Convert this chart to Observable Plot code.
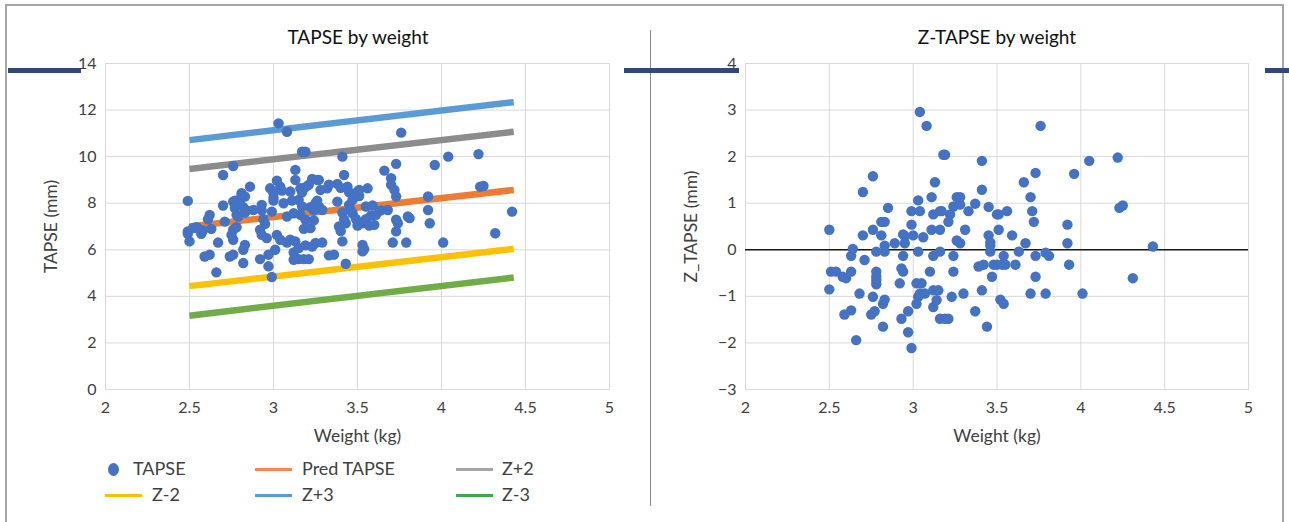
<!DOCTYPE html>
<html>
<head>
<meta charset="utf-8">
<script src="https://cdn.jsdelivr.net/npm/d3@7"></script>
<script src="https://cdn.jsdelivr.net/npm/@observablehq/plot@0.6"></script>
<style>
  html, body { margin: 0; padding: 0; background: #fff; }
  #root { position: relative; width: 1289px; height: 522px; overflow: hidden; font-family: "Lato", "Open Sans", sans-serif; color: #262626; }
  .abs { position: absolute; }
  .title { font-size: 19px; color: #111; white-space: nowrap; transform: translateX(-50%); }
  .leg { font-size: 18px; color: #404040; white-space: nowrap; line-height: 1; }
  #root svg [aria-label$="axis label"] text { font-size: 17.5px; fill: #404040; }
</style>
</head>
<body>
<div id="root"></div>
<script>
// ---------- data ----------
const xTicks = [2, 2.5, 3, 3.5, 4, 4.5, 5];
const tapseTicks = [0, 2, 4, 6, 8, 10, 12, 14];
const zTicks = [-3, -2, -1, 0, 1, 2, 3, 4];

const tapseWeight = [2.49,2.49,2.52,2.55,2.58,2.50,2.49,2.57,2.54,2.59,2.62,2.66,2.62,2.61,2.63,2.67,2.70,2.76,2.70,2.71,
 2.74,2.76,2.76,2.77,2.78,2.79,2.78,2.76,2.75,2.76,2.77,2.80,2.81,2.81,2.83,2.82,2.83,2.84,2.86,2.82,2.82,2.83,2.88,
 2.92,2.97,2.99,2.97,3.01,2.92,2.93,2.96,2.93,2.94,2.95,2.93,2.98,3.00,2.99,3.00,3.00,
 3.02,3.04,3.03,3.08,3.02,3.04,3.08,3.10,3.06,3.08,3.10,3.05,
 3.12,3.13,3.13,3.12,3.13,3.15,3.15,3.18,3.21,3.12,3.15,3.17,3.16,3.16,3.11,3.17,3.19,3.21,3.23,3.19,3.17,3.19,3.18,3.19,
 3.22,3.23,3.22,3.24,3.24,3.25,3.27,3.26,3.27,3.28,3.26,3.29,3.29,3.25,3.32,3.33,3.33,3.36,
 3.38,3.38,3.39,3.41,3.42,3.40,3.44,3.45,3.46,3.47,3.43,3.41,3.42,3.41,3.43,3.40,
 3.45,3.47,3.50,3.51,3.51,3.49,3.50,3.50,3.53,3.55,3.53,3.54,3.53,3.56,3.55,
 3.57,3.58,3.59,3.61,3.60,3.64,3.66,3.68,
 3.70,3.70,3.72,3.73,3.73,3.76,3.71,3.73,3.73,3.74,3.79,3.81,3.80,
 3.92,3.92,3.93,3.96,4.01,4.04,4.22,4.23,4.25,4.32,4.42];
const tapseValue = [8.10,6.79,6.93,6.93,6.83,6.36,6.69,6.69,6.97,5.71,5.79,5.03,7.50,7.31,6.90,6.31,9.21,9.60,7.90,7.21,
 5.71,5.79,8.07,7.79,7.50,7.43,6.97,6.86,6.64,6.43,8.11,8.04,8.33,8.43,8.29,7.83,7.60,7.69,8.71,5.43,6.00,6.21,7.71,
 5.60,5.29,4.83,5.79,6.00,6.86,6.64,6.50,7.93,7.31,7.11,7.69,8.64,8.43,7.64,8.23,8.11,
 8.97,8.71,11.43,11.07,6.64,6.43,6.31,6.43,8.00,7.43,8.50,8.54,
 5.89,9.43,9.00,7.57,6.36,6.07,5.60,5.60,5.60,5.57,8.14,7.86,8.64,7.50,8.11,10.21,10.21,8.79,9.04,8.69,8.47,7.29,6.90,6.19,
 6.93,6.14,7.83,7.26,7.69,8.00,7.86,9.00,9.00,8.57,8.11,7.71,6.31,6.29,8.64,8.80,5.76,5.79,
 8.83,8.07,7.00,10.00,9.21,8.66,8.71,7.93,7.71,7.57,7.14,7.60,7.30,6.36,5.40,6.80,
 8.47,8.14,8.50,8.31,8.57,7.33,7.04,7.21,7.14,7.31,6.21,6.03,5.93,8.64,7.86,
 7.04,7.47,7.90,7.50,7.07,7.69,9.40,7.71,
 9.07,8.79,8.57,8.29,9.69,11.03,6.31,6.79,7.29,7.14,6.31,7.36,7.43,
 8.29,7.71,7.14,9.64,6.31,10.00,10.11,8.71,8.74,6.71,7.64];

// reference lines (values at the lightest and heaviest weight)
const refWeight = [2.5, 4.43];
const predTapse = [7.00, 8.57];
const zPlus2 = [9.47, 11.07];
const zMinus2 = [4.44, 6.04];
const zPlus3 = [10.71, 12.34];
const zMinus3 = [3.17, 4.81];
const seriesNames = ["Pred TAPSE", "Z+2", "Z-2", "Z+3", "Z-3"];
const seriesColors = ["#ED7D31", "#8C8C8C", "#FFC000", "#5B9BD5", "#70AD47"];
const legendColors = ["#F08A4B", "#A5A5A5", "#FFC000", "#5B9BD5", "#3DAA4A"];

const zWeight = [3.04,3.08,3.18,3.19,3.41,3.76,4.05,4.22,3.96,3.73,3.66,2.76,2.70,3.13,3.41,3.11,3.26,3.28,3.03,3.37,3.28,3.70,
 4.23,4.25,2.85,2.99,3.04,3.12,3.16,3.17,3.24,3.22,3.33,3.45,3.50,3.51,3.56,3.71,3.72,2.81,2.83,2.99,3.21,2.76,2.50,3.11,3.16,
 3.31,3.51,3.92,2.70,2.81,2.94,2.95,3.00,3.06,3.26,3.28,3.45,3.59,2.89,2.83,2.95,3.46,3.46,3.67,3.92,4.43,
 2.63,2.78,2.83,2.94,3.03,3.12,3.16,3.24,3.46,3.54,3.63,3.73,3.79,3.81,2.71,
 2.51,2.54,2.58,2.60,2.63,2.50,2.78,2.78,2.78,2.78,2.93,2.94,2.92,3.02,3.05,3.10,3.24,2.68,2.76,2.82,2.83,
 2.59,2.63,2.75,2.77,2.82,2.66,2.93,2.97,2.97,2.99,3.02,3.03,3.04,3.07,3.12,3.12,3.14,3.15,3.16,3.19,3.21,3.23,3.30,3.37,3.44,
 3.41,3.39,3.42,3.47,3.48,3.50,3.53,3.55,3.52,3.54,3.61,3.70,3.73,3.79,3.93,4.01,4.31,2.64];
const zValue = [2.96,2.66,2.04,2.04,1.91,2.66,1.91,1.98,1.63,1.65,1.45,1.58,1.24,1.45,1.29,1.13,1.13,1.13,1.06,0.99,0.97,1.13,
 0.90,0.95,0.90,0.83,0.83,0.76,0.83,0.83,0.93,0.76,0.83,0.92,0.76,0.76,0.83,0.83,0.60,0.60,0.60,0.54,0.60,0.43,0.43,0.43,0.43,
 0.43,0.43,0.54,0.31,0.31,0.33,0.29,0.31,0.27,0.20,0.14,0.31,0.31,0.14,0.09,0.14,0.16,0.09,0.14,0.14,0.07,
 -0.13,-0.04,-0.04,-0.13,-0.04,-0.13,-0.04,-0.13,-0.04,-0.13,-0.04,-0.13,-0.06,-0.13,-0.22,
 -0.47,-0.47,-0.58,-0.61,-0.47,-0.85,-0.47,-0.58,-0.65,-0.74,-0.40,-0.47,-0.72,-0.72,-0.72,-0.47,-0.47,-0.94,-1.01,-1.16,-1.07,
 -1.39,-1.30,-1.39,-1.32,-1.65,-1.94,-1.48,-1.32,-1.77,-2.11,-1.16,-1.01,-0.94,-0.94,-0.87,-1.23,-1.08,-0.87,-1.48,-1.48,-1.48,-1.01,-0.94,-1.32,-1.65,
 -0.87,-0.36,-0.32,-0.58,-0.32,-0.32,-0.32,-0.32,-1.07,-1.16,-0.32,-0.94,-0.58,-0.94,-0.32,-0.94,-0.61,0.02];

// ---------- build tables ----------
const tapsePts = tapseWeight.map((w, i) => ({w, v: tapseValue[i]}));
const zPts = zWeight.map((w, i) => ({w, v: zValue[i]}));
const seriesVals = [predTapse, zPlus2, zMinus2, zPlus3, zMinus3];
const linePts = [];
seriesNames.forEach((name, s) => refWeight.forEach((w, i) => linePts.push({name, w, v: seriesVals[s][i]})));

const root = document.getElementById("root");
function place(el, left, top) { el.style.position = "absolute"; el.style.left = left + "px"; el.style.top = top + "px"; root.appendChild(el); return el; }
function div(cls, css, html) { const d = document.createElement("div"); d.className = "abs " + (cls || ""); d.style.cssText += css; if (html != null) d.textContent = html; root.appendChild(d); return d; }

// frame & decorations
div("", "left:5px;top:4px;width:1279px;height:540px;border:2px solid #A6A6A6;box-sizing:border-box;");
div("", "left:650px;top:30px;width:1px;height:476px;background:#8a8a8a;");
div("", "left:8px;top:68px;width:73px;height:5px;background:#2E4A7D;");
div("", "left:624px;top:68px;width:115px;height:5px;background:#2E4A7D;");
div("", "left:1265px;top:68px;width:24px;height:5px;background:#2E4A7D;");

const common = {
  width: 640, height: 450,
  marginLeft: 105, marginRight: 31, marginTop: 63, marginBottom: 61,
  style: {background: "transparent", fontFamily: "Lato, 'Open Sans', sans-serif", fontSize: "16px", color: "#404040", overflow: "visible"},
};
const xAxisMarks = [
  Plot.gridX(xTicks, {stroke: "#D9D9D9", strokeOpacity: 1}),
  Plot.axisX(xTicks, {tickSize: 0, tickPadding: 12, tickFormat: d => String(d), fontSize: 16,
    label: "Weight (kg)", labelAnchor: "center", labelArrow: "none", labelOffset: 52})
];

// left chart
const left = Plot.plot({
  ...common,
  x: {domain: [2, 5]},
  y: {domain: [0, 14]},
  marks: [
    Plot.gridY(tapseTicks, {stroke: "#D9D9D9", strokeOpacity: 1}),
    ...xAxisMarks,
    Plot.frame({stroke: "#D9D9D9"}),
    Plot.axisY(tapseTicks, {tickSize: 0, tickPadding: 9, fontSize: 16,
      label: "TAPSE (mm)", labelAnchor: "center", labelArrow: "none", labelOffset: 61}),
    Plot.line(linePts, {x: "w", y: "v", z: "name", stroke: d => seriesColors[seriesNames.indexOf(d.name)], strokeWidth: 6.5, strokeLinecap: "butt"}),
    Plot.dot(tapsePts, {x: "w", y: "v", r: 5.2, fill: "#4472C4", stroke: "none"})
  ]
});
place(left, 0, 0);

// right chart
const right = Plot.plot({
  ...common,
  marginRight: 32,
  x: {domain: [2, 5]},
  y: {domain: [-3, 4]},
  marks: [
    Plot.gridY(zTicks, {stroke: "#D9D9D9", strokeOpacity: 1}),
    ...xAxisMarks,
    Plot.frame({stroke: "#D9D9D9"}),
    Plot.axisY(zTicks, {tickSize: 0, tickPadding: 9, fontSize: 16,
      label: "Z_TAPSE (mm)", labelAnchor: "center", labelArrow: "none", labelOffset: 61}),
    Plot.ruleY([0], {stroke: "#1a1a1a", strokeWidth: 1.5}),
    Plot.dot(zPts, {x: "w", y: "v", r: 5.2, fill: "#4472C4", stroke: "none"})
  ]
});
place(right, 640, 0);

// titles
div("title", "left:358px;top:25px;", "TAPSE by weight");
div("title", "left:997px;top:25px;", "Z-TAPSE by weight");

// legend
function legendItem(kind, color, label, x, y, textX) {
  if (kind === "dot") div("", `left:${x - 5}px;top:${y - 6}px;width:11px;height:13px;border-radius:50%;background:${color};`);
  else div("", `left:${x}px;top:${y - 1}px;width:37px;height:3px;background:${color};`);
  div("leg", `left:${textX}px;top:${y - 10}px;`, label);
}
legendItem("dot", "#4472C4", "TAPSE", 113, 469, 133);
legendItem("line", legendColors[0], seriesNames[0], 255, 469, 302);
legendItem("line", legendColors[1], seriesNames[1], 456, 469, 502);
legendItem("line", legendColors[2], seriesNames[2], 105, 495, 152);
legendItem("line", legendColors[3], seriesNames[3], 255, 495, 302);
legendItem("line", legendColors[4], seriesNames[4], 456, 495, 502);
</script>
</body>
</html>
